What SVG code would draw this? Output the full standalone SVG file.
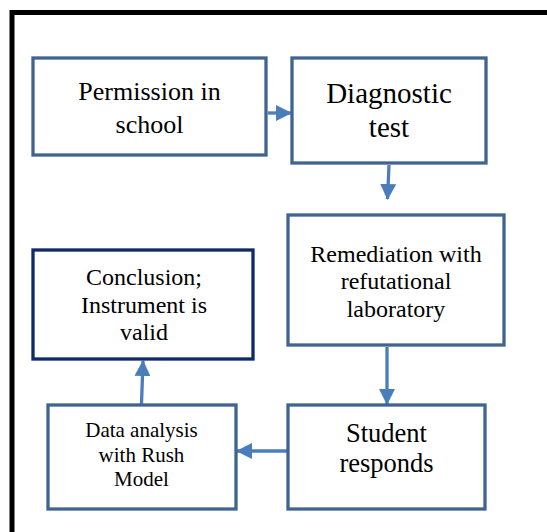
<svg xmlns="http://www.w3.org/2000/svg" width="547" height="532" viewBox="0 0 547 532">
<style>
.box{fill:#fff;stroke:#3F6490;stroke-width:3.3}
.dark{stroke:#0F2A66}
.t{fill:#000;text-anchor:middle}
.c{stroke:#4A7EBB;stroke-width:3.3;fill:none;marker-end:url(#ah)}
</style>
<defs>
<marker id="ah" markerUnits="userSpaceOnUse" markerWidth="16" markerHeight="16" refX="15" refY="8" orient="auto">
<path d="M0,0 L16,8 L0,16 z" fill="#4A7EBB"/>
</marker>
</defs>
<rect width="547" height="532" fill="#fff"/>
<rect x="12" y="12.5" width="580" height="580" fill="none" stroke="#000" stroke-width="5"/>
<g id="connectors">
<line class="c" x1="268" y1="113" x2="291" y2="113"/>
<line class="c" x1="389" y1="165" x2="387.5" y2="199"/>
<line class="c" x1="387" y1="347" x2="387" y2="404"/>
<line class="c" x1="287" y1="451" x2="237" y2="451"/>
<line class="c" x1="141.5" y1="404" x2="143" y2="361"/>
</g>
<g font-family="Liberation Serif, DejaVu Serif, serif">
<g id="permission">
<rect class="box" x="33" y="58" width="233" height="97"/>
<text class="t" font-size="26" x="149.5"><tspan x="149.5" y="100">Permission in</tspan><tspan x="149.5" y="133">school</tspan></text>
</g>
<g id="diagnostic">
<rect class="box" x="292" y="58" width="194" height="105"/>
<text class="t" font-size="29" x="389"><tspan x="389" y="103">Diagnostic</tspan><tspan x="389" y="136.5">test</tspan></text>
</g>
<g id="remediation">
<rect class="box" x="288" y="215" width="216" height="130"/>
<text class="t" font-size="24" x="396"><tspan x="396" y="261.5">Remediation with</tspan><tspan x="396" y="289">refutational</tspan><tspan x="396" y="316.5">laboratory</tspan></text>
</g>
<g id="student">
<rect class="box" x="288" y="405" width="197" height="104"/>
<text class="t" font-size="26.5" x="386.5"><tspan x="386.5" y="441.5">Student</tspan><tspan x="386.5" y="471.5">responds</tspan></text>
</g>
<g id="data">
<rect class="box" x="48" y="405" width="188" height="104"/>
<text class="t" font-size="21" x="141.5"><tspan x="141.5" y="436.5">Data analysis</tspan><tspan x="141.5" y="461.5">with Rush</tspan><tspan x="141.5" y="486">Model</tspan></text>
</g>
<g id="conclusion">
<rect class="box dark" x="33" y="250" width="220" height="109"/>
<text class="t" font-size="24" x="144"><tspan x="144" y="285">Conclusion;</tspan><tspan x="144" y="312.5">Instrument is</tspan><tspan x="144" y="340">valid</tspan></text>
</g>
</g>
</svg>
